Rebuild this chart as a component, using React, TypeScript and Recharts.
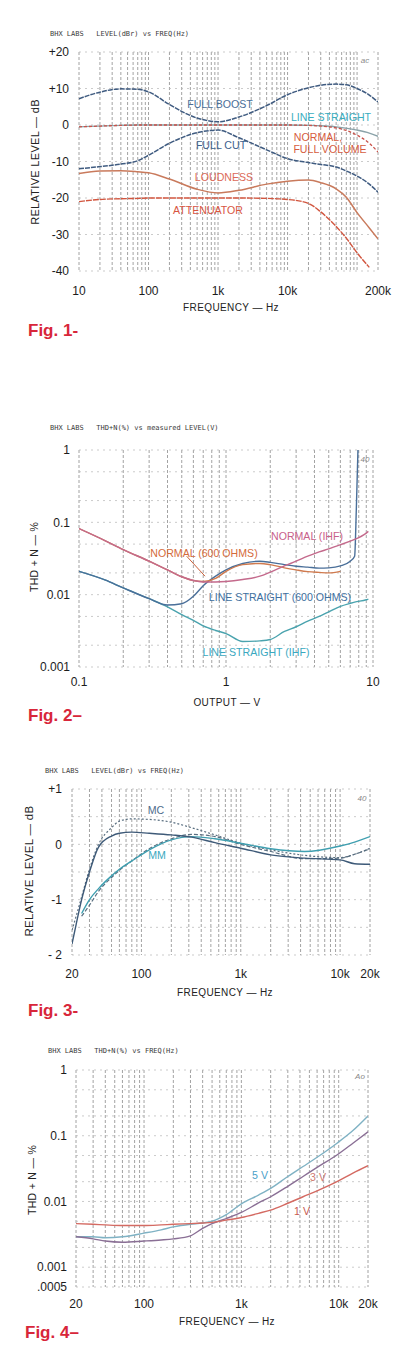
import React from 'react';
import { LineChart, Line, XAxis, YAxis, CartesianGrid, ReferenceLine } from 'recharts';

const SANS = '"Liberation Sans", Arial, sans-serif';
const MONO = '"DejaVu Sans Mono", monospace';

// ---------- Fig. 1 : LEVEL(dBr) vs FREQ(Hz) ----------
const fig1Freq = [10, 20, 40, 70, 100, 200, 500, 1000, 2000, 5000, 10000, 20000, 30000, 50000, 70000, 100000, 150000, 200000];
const fig1FullBoost = [7.2, 9.0, 9.9, 9.8, 9.1, 5.6, 1.9, 0.9, 2.2, 5.3, 8.3, 10.2, 10.9, 11.2, 11.0, 10.0, 8.2, 6.3];
const fig1LineStraight = [-0.5, -0.3, -0.1, 0, 0, 0, 0, 0, 0, 0, 0, -0.1, -0.2, -0.5, -0.9, -1.4, -2.2, -3.1];
const fig1NormalFull = [-0.5, -0.3, -0.1, 0, 0, 0, 0, 0, 0, 0, 0, -0.1, -0.3, -0.8, -1.5, -2.8, -5.0, -7.4];
const fig1FullCut = [-12, -11.4, -10.7, -9.8, -8.3, -5.0, -2.1, -1.4, -3.5, -6.8, -9.2, -10.3, -10.8, -11.5, -12.6, -14.0, -16.2, -18.4];
const fig1Loudness = [-13.3, -12.6, -12.5, -12.8, -13.1, -14.8, -17.6, -18.6, -17.9, -16.2, -15.4, -15.1, -15.8, -17.5, -19.8, -24.0, -28.2, -31.2];
const fig1Attenuator = [-21, -20.4, -20.2, -20.1, -20, -20, -20, -20, -20, -20.1, -20.4, -21.5, -23.8, -27.8, -31.0, -35.0, -39.0, null];
const fig1XTicks = [10, 20, 30, 40, 50, 60, 70, 80, 90, 100, 200, 300, 400, 500, 600, 700, 800, 900, 1000, 2000, 3000, 4000, 5000, 6000, 7000, 8000, 9000, 10000, 20000, 30000, 40000, 50000, 60000, 70000, 80000, 90000, 100000, 200000];
const fig1XLabels: Record<string, string> = { '10': '10', '100': '100', '1000': '1k', '10000': '10k', '200000': '200k' };
const fig1YTicks = [-40, -30, -20, -10, 0, 10, 20];
const fig1YLabels: Record<string, string> = { '-40': '-40', '-30': '-30', '-20': '-20', '-10': '-10', '0': '0', '10': '+10', '20': '+20' };

// ---------- Fig. 2 : THD+N(%) vs measured LEVEL(V) ----------
const fig2Volts = [0.1, 0.15, 0.2, 0.3, 0.4, 0.5, 0.6, 0.7, 0.85, 1, 1.3, 1.7, 2, 2.5, 3, 3.6, 4.3, 5, 6, 7, 7.5, 7.7, 7.9, 9, 9.3];
const fig2NormalIhf = [0.082, 0.056, 0.042, 0.029, 0.022, 0.0177, 0.0157, 0.015, 0.015, 0.0152, 0.0162, 0.018, 0.0205, 0.025, 0.029, 0.034, 0.039, 0.043, 0.049, 0.055, 0.058, null, null, 0.071, 0.075];
const fig2Normal600 = [0.082, 0.056, 0.042, 0.029, 0.022, 0.0177, 0.0157, 0.0152, 0.0168, 0.021, 0.026, 0.027, 0.026, 0.0235, 0.022, 0.0208, 0.0203, 0.02, 0.021, null, null, null, null, null, null];
const fig2LineStraight600 = [0.021, 0.016, 0.0124, 0.0088, 0.0072, 0.0075, 0.0095, 0.0133, 0.018, 0.022, 0.027, 0.029, 0.028, 0.026, 0.0247, 0.024, 0.0233, 0.0235, 0.025, 0.029, 0.034, 0.15, 1.0, null, null];
const fig2LineStraightIhf = [0.021, 0.016, 0.0124, 0.0088, 0.0068, 0.0053, 0.0044, 0.0037, 0.0032, 0.0029, 0.00225, 0.0023, 0.0024, 0.0031, 0.0036, 0.0043, 0.005, 0.0058, 0.0069, 0.0076, 0.0079, null, null, 0.0085, 0.0087];
const fig2XTicks = [0.1, 0.2, 0.3, 0.4, 0.5, 0.6, 0.7, 0.8, 0.9, 1, 2, 3, 4, 5, 6, 7, 8, 9, 10];
const fig2XLabels: Record<string, string> = { '0.1': '0.1', '1': '1', '10': '10' };
const fig2YTicks = [0.001, 0.002, 0.005, 0.01, 0.02, 0.05, 0.1, 0.2, 0.5, 1];
const fig2YLabels: Record<string, string> = { '0.001': '0.001', '0.01': '0.01', '0.1': '0.1', '1': '1' };
const fig2Pointer = [{ x: 0.54, y: 0.034 }, { x: 0.72, y: 0.018 }];

// ---------- Fig. 3 : LEVEL(dBr) vs FREQ(Hz), phono ----------
const fig3Freq = [20, 22, 25, 30, 37, 50, 60, 80, 120, 200, 320, 550, 1000, 2000, 4400, 10000, 14000, 20000];
const fig3McSolid = [-1.8, -1.45, -1.0, -0.5, -0.05, 0.15, 0.2, 0.22, 0.2, 0.17, 0.13, 0.03, -0.07, -0.19, -0.25, -0.28, -0.35, -0.36];
const fig3McDotted = [-1.55, -1.3, -0.95, -0.45, 0.0, 0.3, 0.42, 0.46, 0.45, 0.4, 0.3, 0.17, 0.02, -0.1, -0.2, -0.24, -0.18, -0.07];
const fig3MmSolid = [null, null, -1.25, -1.0, -0.8, -0.57, -0.45, -0.3, -0.1, 0.08, 0.14, 0.1, 0.02, -0.08, -0.13, -0.03, 0.04, 0.14];
const fig3MmDashed = [null, null, -1.3, -1.1, -0.85, -0.6, -0.47, -0.3, -0.08, 0.1, 0.18, 0.14, 0.0, -0.13, -0.26, -0.25, -0.18, -0.08];
const fig3XTicks = [20, 30, 40, 50, 60, 70, 80, 90, 100, 200, 300, 400, 500, 600, 700, 800, 900, 1000, 2000, 3000, 4000, 5000, 6000, 7000, 8000, 9000, 10000, 20000];
const fig3XLabels: Record<string, string> = { '20': '20', '100': '100', '1000': '1k', '10000': '10k', '20000': '20k' };
const fig3YTicks = [-2, -1.5, -1, -0.5, 0, 0.5, 1];
const fig3YLabels: Record<string, string> = { '-2': '- 2', '-1': '-1', '0': '0', '1': '+1' };

// ---------- Fig. 4 : THD+N(%) vs FREQ(Hz) ----------
const fig4Freq = [20, 30, 40, 60, 100, 150, 200, 300, 400, 500, 700, 1000, 1500, 2000, 3000, 4300, 6000, 9600, 14000, 20000];
const fig4FiveV = [0.0029, 0.0029, 0.0028, 0.0029, 0.0033, 0.0037, 0.0041, 0.0045, 0.0047, 0.005, 0.0063, 0.0092, 0.0125, 0.0158, 0.024, 0.034, 0.047, 0.077, 0.12, 0.2];
const fig4ThreeV = [0.0029, 0.0027, 0.0025, 0.0024, 0.0025, 0.0026, 0.0027, 0.003, 0.0039, 0.0046, 0.0055, 0.0068, 0.0095, 0.0118, 0.017, 0.024, 0.033, 0.051, 0.077, 0.115];
const fig4OneV = [0.0046, 0.0045, 0.0044, 0.0043, 0.0043, 0.0044, 0.0045, 0.0046, 0.0047, 0.0048, 0.0052, 0.0057, 0.0066, 0.0074, 0.0094, 0.0118, 0.0145, 0.02, 0.027, 0.035];
const fig4XTicks = fig3XTicks;
const fig4XLabels = fig3XLabels;
const fig4YTicks = [0.0005, 0.001, 0.002, 0.005, 0.01, 0.02, 0.05, 0.1, 0.2, 0.5, 1];
const fig4YLabels: Record<string, string> = { '0.0005': '.0005', '0.001': '0.001', '0.01': '0.01', '0.1': '0.1', '1': '1' };

type Row = Record<string, number | null>;
function buildRows(xs: number[], series: Record<string, (number | null)[]>): Row[] {
  return xs.map((x, i) => {
    const r: Row = { x };
    Object.keys(series).forEach((k) => {
      r[k] = series[k][i];
    });
    return r;
  });
}

type SeriesDef = { key: string; color: string; dash?: string; width?: number };

type ChartProps = {
  top: number;
  height: number;
  plotLeft: number;
  plotRight: number;
  plotTop: number;
  plotBottom: number;
  rows: Row[];
  series: SeriesDef[];
  xDomain: [number, number];
  xTicks: number[];
  xLabels: Record<string, string>;
  xTickMargin: number;
  yScale: 'log' | 'linear';
  yDomain: [number, number];
  yTicks: number[];
  yLabels: Record<string, string>;
  yTickMargin: number;
  segments?: { x: number; y: number }[][];
  segColor?: string;
};

function Chart(p: ChartProps) {
  const W = 399;
  const tickStyle = { fill: '#1c1c1c', fontSize: 12, fontFamily: SANS };
  return (
    <div style={{ position: 'absolute', left: 0, top: p.top, width: W, height: p.height }}>
      <LineChart
        width={W}
        height={p.height}
        data={p.rows}
        margin={{ top: p.plotTop, right: W - p.plotRight, left: 0, bottom: 0 }}
      >
        <CartesianGrid vertical horizontal={false} stroke="#8c8c8c" strokeDasharray="3 2" strokeWidth={0.8} />
        <CartesianGrid vertical={false} horizontal stroke="#b5b5b5" strokeDasharray="2 4" strokeWidth={0.7} />
        <XAxis
          dataKey="x"
          type="number"
          scale="log"
          domain={p.xDomain}
          ticks={p.xTicks}
          interval={0}
          allowDataOverflow
          axisLine={false}
          tickLine={false}
          tickSize={0}
          tickMargin={p.xTickMargin}
          height={p.height - p.plotBottom}
          tick={tickStyle}
          tickFormatter={(v: number) => p.xLabels[String(v)] ?? ''}
        />
        <YAxis
          type="number"
          scale={p.yScale}
          domain={p.yDomain}
          ticks={p.yTicks}
          interval={0}
          allowDataOverflow
          axisLine={false}
          tickLine={false}
          tickSize={0}
          tickMargin={p.yTickMargin}
          width={p.plotLeft}
          tick={tickStyle}
          tickFormatter={(v: number) => p.yLabels[String(v)] ?? ''}
        />
        {p.series.map((s) => (
          <Line
            key={s.key}
            dataKey={s.key}
            type="monotone"
            stroke={s.color}
            strokeWidth={s.width ?? 1.4}
            strokeDasharray={s.dash}
            dot={false}
            connectNulls
            isAnimationActive={false}
          />
        ))}
        {(p.segments || []).map((seg, i) => (
          <ReferenceLine key={i} segment={seg} stroke={p.segColor || '#d06a3a'} strokeWidth={1} />
        ))}
      </LineChart>
    </div>
  );
}

type TxtProps = {
  x: number;
  y: number;
  children: React.ReactNode;
  color?: string;
  size?: number;
  weight?: number;
  anchor?: 'start' | 'middle';
  rotate?: number;
  family?: string;
  spacing?: number;
  italic?: boolean;
};
function Txt({ x, y, children, color = '#222', size = 11, weight = 400, anchor = 'middle', rotate = 0, family = SANS, spacing = 0, italic = false }: TxtProps) {
  const tx = anchor === 'middle' ? '-50%' : '0';
  return (
    <div
      style={{
        position: 'absolute',
        left: x,
        top: y,
        transform: `translate(${tx}, -50%) rotate(${rotate}deg)`,
        color,
        fontSize: size,
        fontWeight: weight,
        fontFamily: family,
        letterSpacing: spacing,
        fontStyle: italic ? 'italic' : 'normal',
        whiteSpace: 'pre',
        lineHeight: 1,
      }}
    >
      {children}
    </div>
  );
}

const RED = '#d8263a';

export default function App() {
  const rows1 = buildRows(fig1Freq, {
    boost: fig1FullBoost,
    straight: fig1LineStraight,
    normal: fig1NormalFull,
    cut: fig1FullCut,
    loud: fig1Loudness,
    att: fig1Attenuator,
  });
  const rows2 = buildRows(fig2Volts, {
    nIhf: fig2NormalIhf,
    n600: fig2Normal600,
    ls600: fig2LineStraight600,
    lsIhf: fig2LineStraightIhf,
  });
  const rows3 = buildRows(fig3Freq, {
    mcS: fig3McSolid,
    mcD: fig3McDotted,
    mmS: fig3MmSolid,
    mmD: fig3MmDashed,
  });
  const rows4 = buildRows(fig4Freq, { v5: fig4FiveV, v3: fig4ThreeV, v1: fig4OneV });

  return (
    <div style={{ position: 'absolute', left: 0, top: 0, width: 399, height: 1371, background: '#ffffff', overflow: 'hidden' }}>
      {/* Fig 1 */}
      <Chart
        top={0}
        height={320}
        plotLeft={79}
        plotRight={378}
        plotTop={52}
        plotBottom={271}
        rows={rows1}
        series={[
          { key: 'straight', color: '#8aa2a8', width: 1.3 },
          { key: 'normal', color: '#c9524a', dash: '3 2', width: 1.3 },
          { key: 'boost', color: '#3f5b80', dash: '5 1', width: 1.5 },
          { key: 'cut', color: '#3f5b80', dash: '5 1', width: 1.5 },
          { key: 'loud', color: '#c97a5c', width: 1.5 },
          { key: 'att', color: '#d2563f', dash: '6 1', width: 1.4 },
        ]}
        xDomain={[10, 200000]}
        xTicks={fig1XTicks}
        xLabels={fig1XLabels}
        xTickMargin={15}
        yScale="linear"
        yDomain={[-40, 20]}
        yTicks={fig1YTicks}
        yLabels={fig1YLabels}
        yTickMargin={10}
      />
      <Txt x={50} y={34} anchor="start" family={MONO} size={7} color="#3a3a3a">{'BHX LABS   LEVEL(dBr) vs FREQ(Hz)'}</Txt>
      <Txt x={365} y={61} size={8} color="#888" italic>ac</Txt>
      <Txt x={35} y={162} rotate={-90} size={11} spacing={0.3}>RELATIVE LEVEL — dB</Txt>
      <Txt x={231} y={308} size={10} spacing={0.4}>FREQUENCY — Hz</Txt>
      <Txt x={220} y={104} size={10.6} color="#4a6e98">FULL BOOST</Txt>
      <Txt x={331} y={117} size={10.6} color="#3aaec0">LINE STRAIGHT</Txt>
      <Txt x={318} y={137} size={10.6} color="#d65c40">NORMAL,</Txt>
      <Txt x={330} y={149} size={10.6} color="#d65c40">FULL VOLUME</Txt>
      <Txt x={221} y={145} size={10.6} color="#3d628e">FULL CUT</Txt>
      <Txt x={224} y={177} size={10.6} color="#dc6a58">LOUDNESS</Txt>
      <Txt x={208} y={210} size={10.6} color="#d8553f">ATTENUATOR</Txt>
      <Txt x={28} y={330} anchor="start" size={17} weight={700} color={RED}>Fig. 1-</Txt>

      {/* Fig 2 */}
      <Chart
        top={400}
        height={300}
        plotLeft={79}
        plotRight={373}
        plotTop={50}
        plotBottom={267}
        rows={rows2}
        series={[
          { key: 'lsIhf', color: '#4aa3ae', width: 1.4 },
          { key: 'ls600', color: '#4a6f99', width: 1.4 },
          { key: 'n600', color: '#d07a4e', width: 1.4 },
          { key: 'nIhf', color: '#c46a8c', width: 1.4 },
        ]}
        xDomain={[0.1, 10]}
        xTicks={fig2XTicks}
        xLabels={fig2XLabels}
        xTickMargin={10}
        yScale="log"
        yDomain={[0.001, 1]}
        yTicks={fig2YTicks}
        yLabels={fig2YLabels}
        yTickMargin={9}
        segments={[fig2Pointer]}
        segColor="#c9603a"
      />
      <Txt x={50} y={428} anchor="start" family={MONO} size={7} color="#3a3a3a">{'BHX LABS   THD+N(%) vs measured LEVEL(V)'}</Txt>
      <Txt x={365} y={460} size={8} color="#888" italic>40</Txt>
      <Txt x={34} y={557} rotate={-90} size={10.5} spacing={0.3}>THD + N — %</Txt>
      <Txt x={227} y={703} size={10} spacing={0.4}>OUTPUT — V</Txt>
      <Txt x={307} y={536} size={10.6} color="#c8608a">NORMAL (IHF)</Txt>
      <Txt x={204} y={553} size={10.6} color="#d46a3a">NORMAL (600 OHMS)</Txt>
      <Txt x={280} y={597} size={10.6} color="#3e6fa0">LINE STRAIGHT (600 OHMS)</Txt>
      <Txt x={256} y={652} size={10.6} color="#3aa8c0">LINE STRAIGHT (IHF)</Txt>
      <Txt x={28} y={715} anchor="start" size={17} weight={700} color={RED}>Fig. 2–</Txt>

      {/* Fig 3 */}
      <Chart
        top={760}
        height={230}
        plotLeft={72}
        plotRight={370}
        plotTop={29}
        plotBottom={195}
        rows={rows3}
        series={[
          { key: 'mmD', color: '#5a6f80', dash: '4 2', width: 1.2 },
          { key: 'mcD', color: '#5a6f80', dash: '2 2', width: 1.2 },
          { key: 'mmS', color: '#3f9fb0', width: 1.4 },
          { key: 'mcS', color: '#3e5a78', width: 1.4 },
        ]}
        xDomain={[20, 20000]}
        xTicks={fig3XTicks}
        xLabels={fig3XLabels}
        xTickMargin={14}
        yScale="linear"
        yDomain={[-2, 1]}
        yTicks={fig3YTicks}
        yLabels={fig3YLabels}
        yTickMargin={10}
      />
      <Txt x={45} y={771} anchor="start" family={MONO} size={7} color="#3a3a3a">{'BHX LABS   LEVEL(dBr) vs FREQ(Hz)'}</Txt>
      <Txt x={362} y={799} size={8} color="#888" italic>40</Txt>
      <Txt x={30} y={871} rotate={-90} size={11.5} spacing={0.3}>RELATIVE LEVEL — dB</Txt>
      <Txt x={225} y={993} size={10} spacing={0.4}>FREQUENCY — Hz</Txt>
      <Txt x={156} y={810} size={10.6} color="#4e6c8c">MC</Txt>
      <Txt x={157} y={855} size={10.6} color="#3aa8c0">MM</Txt>
      <Txt x={28} y={1010} anchor="start" size={17} weight={700} color={RED}>Fig. 3-</Txt>

      {/* Fig 4 */}
      <Chart
        top={1040}
        height={290}
        plotLeft={76}
        plotRight={368}
        plotTop={30}
        plotBottom={247}
        rows={rows4}
        series={[
          { key: 'v5', color: '#7fb2c4', width: 1.4 },
          { key: 'v3', color: '#8a6f95', width: 1.4 },
          { key: 'v1', color: '#d46a62', width: 1.4 },
        ]}
        xDomain={[20, 20000]}
        xTicks={fig4XTicks}
        xLabels={fig4XLabels}
        xTickMargin={12}
        yScale="log"
        yDomain={[0.0005, 1]}
        yTicks={fig4YTicks}
        yLabels={fig4YLabels}
        yTickMargin={9}
      />
      <Txt x={48} y={1051} anchor="start" family={MONO} size={7} color="#3a3a3a">{'BHX LABS   THD+N(%) vs FREQ(Hz)'}</Txt>
      <Txt x={360} y={1077} size={8} color="#888" italic>Ao</Txt>
      <Txt x={32} y={1180} rotate={-90} size={10.5} spacing={0.3}>THD + N — %</Txt>
      <Txt x={227} y={1322} size={10} spacing={0.4}>FREQUENCY — Hz</Txt>
      <Txt x={260} y={1175} size={10.6} color="#4aa0c8">5 V</Txt>
      <Txt x={318} y={1177} size={10.6} color="#d07a70">3 V</Txt>
      <Txt x={302} y={1211} size={10.6} color="#c85a50">1 V</Txt>
      <Txt x={25} y={1332} anchor="start" size={17} weight={700} color={RED}>Fig. 4–</Txt>
    </div>
  );
}
